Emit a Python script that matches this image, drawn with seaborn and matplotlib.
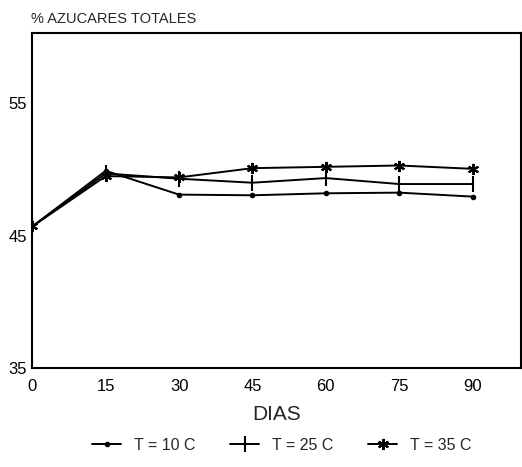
import matplotlib
matplotlib.use('Agg')
import matplotlib.pyplot as plt
import seaborn as sns
import pandas as pd

# ── data ──
dias = [0, 15, 30, 45, 60, 75, 90]
t10 = [45.7, 49.9, 48.1, 48.05, 48.2, 48.25, 47.95]
t25 = [45.7, 49.7, 49.3, 49.0, 49.35, 48.9, 48.9]
t35 = [45.7, 49.5, 49.4, 50.1, 50.2, 50.3, 50.05]
series_names = ['T = 10 C', 'T = 25 C', 'T = 35 C']
y_ticks = [35, 45, 55]

sns.set_style('white')
plt.rcParams['font.family'] = ['Liberation Sans', 'DejaVu Sans']

df = pd.DataFrame({'dias': dias * 3,
                   'valor': t10 + t25 + t35,
                   'serie': [series_names[0]] * 7 + [series_names[1]] * 7 + [series_names[2]] * 7})

fig = plt.figure(figsize=(5.22, 4.67), dpi=100)
ax = fig.add_axes([0.062, 0.212, 0.937, 0.717])

markers = {series_names[0]: 'o', series_names[1]: '|', series_names[2]: (6, 2, 0)}
sizes = {series_names[0]: 2.5, series_names[1]: 11, series_names[2]: 8}

for name in series_names:
    sub = df[df['serie'] == name]
    sns.lineplot(data=sub, x='dias', y='valor', ax=ax, color='black', linewidth=1.4,
                 marker=markers[name], markersize=sizes[name], markeredgewidth=1.5,
                 markeredgecolor='black', markerfacecolor='black', label=name, legend=False)

ax.set_xlim(0, 100)
ax.set_ylim(35, 60.3)
ax.set_xticks(dias)
ax.set_yticks(y_ticks)
ax.tick_params(direction='in', length=5, width=1.2, labelsize=12, colors='black')
ax.tick_params(axis='x', pad=8)
ax.tick_params(axis='y', pad=4)
for s in ax.spines.values():
    s.set_color('black')
    s.set_linewidth(1.5)

ax.set_xlabel('DIAS', fontsize=15, labelpad=8)
ax.set_ylabel('')
fig.text(0.06, 0.945, '% AZUCARES TOTALES', fontsize=10.5, ha='left', va='bottom')

handles, labels = ax.get_legend_handles_labels()
fig.legend(handles, labels, loc='lower center', bbox_to_anchor=(0.54, 0.0), ncol=3,
           frameon=False, fontsize=11.5, handlelength=1.8, columnspacing=2.2)

fig.savefig('out.png', dpi=100)
